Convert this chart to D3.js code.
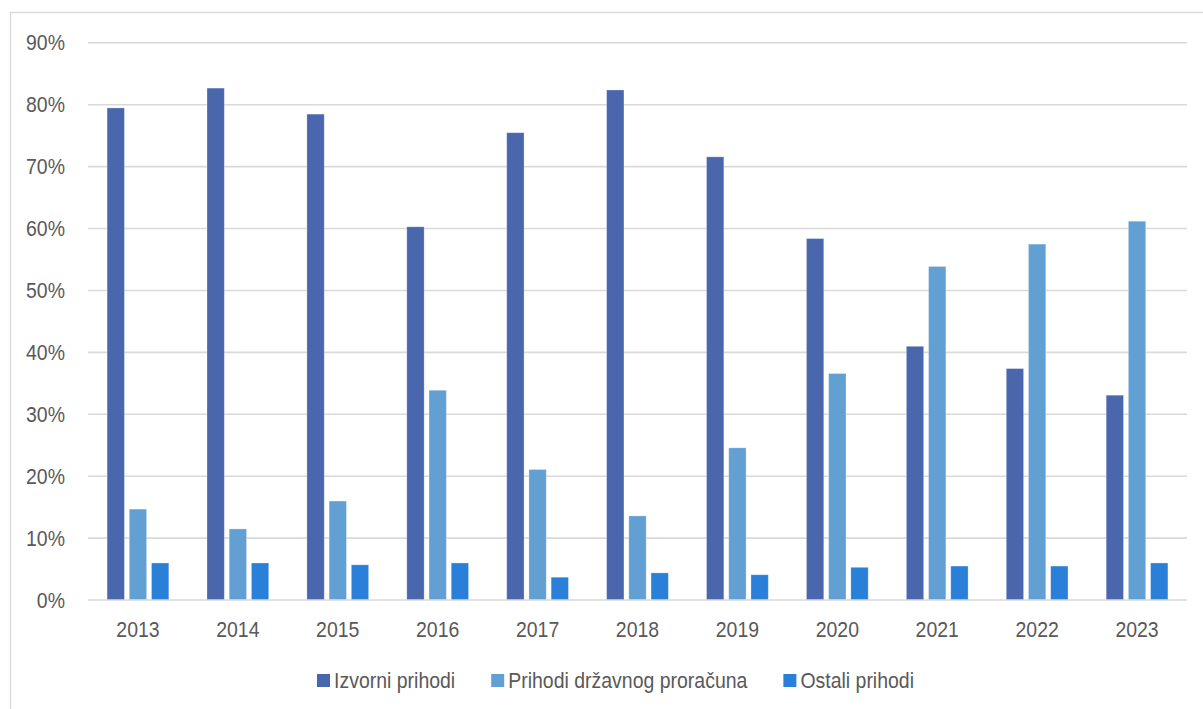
<!DOCTYPE html>
<html>
<head>
<meta charset="utf-8">
<script src="https://cdn.jsdelivr.net/npm/d3@7"></script>
<style>
  html, body { margin: 0; padding: 0; background: #fff; }
  svg { display: block; font-family: "Liberation Sans", Arial, sans-serif; }
</style>
</head>
<body>
<svg id="chart" width="1203" height="709"></svg>
<script>
// Revenue structure by year (share of total, %)
const years = ["2013", "2014", "2015", "2016", "2017", "2018", "2019", "2020", "2021", "2022", "2023"];
const seriesNames = ["Izvorni prihodi", "Prihodi državnog proračuna", "Ostali prihodi"];
const izvorniPrihodi   = [79.4, 82.6, 78.4, 60.2, 75.4, 82.3, 71.5, 58.3, 40.9, 37.3, 33.0];
const prihodiProracuna = [14.6, 11.4, 15.9, 33.8, 21.0, 13.5, 24.5, 36.5, 53.8, 57.4, 61.1];
const ostaliPrihodi    = [5.9, 5.9, 5.6, 5.9, 3.6, 4.3, 4.0, 5.2, 5.4, 5.4, 5.9];
const yTicks = [0, 10, 20, 30, 40, 50, 60, 70, 80, 90];
const colors = ["#4A66AC", "#629FD3", "#2A7FD9"];

const seriesValues = [izvorniPrihodi, prihodiProracuna, ostaliPrihodi];
const rows = years.map((yr, i) => ({
  year: yr,
  values: seriesNames.map((s, k) => ({ key: s, value: seriesValues[k][i] / 100 }))
}));

const svg = d3.select("#chart");
const textColor = "#595959";
const gridColor = "#D9D9D9";
const sx = 0.95, sy = 1.07; // slightly condensed label lettering
const fontSize = 20.5;

// outer frame
svg.append("rect")
  .attr("x", 10.5).attr("y", 12.5)
  .attr("width", 1200).attr("height", 720)
  .attr("fill", "none").attr("stroke", gridColor).attr("stroke-width", 1.3);

const plotLeft = 88, plotRight = 1187, plotTop = 42.3, plotBottom = 599.5;

const x0 = d3.scaleBand().domain(years).range([plotLeft, plotRight]).paddingInner(0).paddingOuter(0);
const bw = x0.bandwidth();
const x1 = d3.scaleBand().domain(seriesNames)
  .range([bw * 0.191, bw * 0.809]).paddingInner(0.22).paddingOuter(0);
const y = d3.scaleLinear().domain([0, 0.9]).range([plotBottom, plotTop]);
const color = d3.scaleOrdinal().domain(seriesNames).range(colors);

// gridlines + y labels
const yAxis = d3.axisLeft(y)
  .tickValues(yTicks.map(t => t / 100))
  .tickFormat(d3.format(".0%"))
  .tickSize(-(plotRight - plotLeft))
  .tickPadding(0);

const gy = svg.append("g").attr("transform", `translate(${plotLeft},0)`).call(yAxis);
gy.select(".domain").remove();
gy.selectAll(".tick line").attr("stroke", gridColor).attr("stroke-width", 1.6);
gy.selectAll(".tick text")
  .attr("x", null).attr("dy", null)
  .attr("transform", `translate(-23,7.6) scale(${sx},${sy})`)
  .attr("fill", textColor)
  .attr("font-size", fontSize)
  .attr("text-anchor", "end");

// bars
const groups = svg.append("g").selectAll("g")
  .data(rows).join("g")
  .attr("transform", d => `translate(${x0(d.year)},0)`);

groups.selectAll("rect")
  .data(d => d.values).join("rect")
  .attr("x", d => x1(d.key))
  .attr("y", d => y(d.value))
  .attr("width", x1.bandwidth())
  .attr("height", d => y(0) - y(d.value))
  .attr("fill", d => color(d.key))
  .attr("stroke", "#ffffff")
  .attr("stroke-opacity", 0.35)
  .attr("stroke-width", 0.8);

// x labels
const xAxis = d3.axisBottom(x0).tickSize(0).tickPadding(0);
const gx = svg.append("g").attr("transform", `translate(0,${plotBottom})`).call(xAxis);
gx.select(".domain").remove();
gx.selectAll(".tick text")
  .attr("y", null).attr("dy", null)
  .attr("transform", `translate(0,37.5) scale(${sx},${sy})`)
  .attr("fill", textColor)
  .attr("font-size", fontSize)
  .attr("font-family", "Liberation Sans, Arial, sans-serif");

// legend
const legend = svg.append("g").attr("transform", "translate(317,688)");
let lx = 0;
seriesNames.forEach((name) => {
  const item = legend.append("g").attr("transform", `translate(${lx},0)`);
  item.append("rect")
    .attr("x", 0).attr("y", -14)
    .attr("width", 13).attr("height", 13)
    .attr("fill", color(name));
  const t = item.append("text")
    .attr("transform", `translate(17,0) scale(${sx},${sy})`)
    .attr("fill", textColor)
    .attr("font-size", fontSize)
    .text(name);
  const w = t.node().getComputedTextLength() * sx;
  lx += 17 + w + 36;
});
</script>
</body>
</html>
